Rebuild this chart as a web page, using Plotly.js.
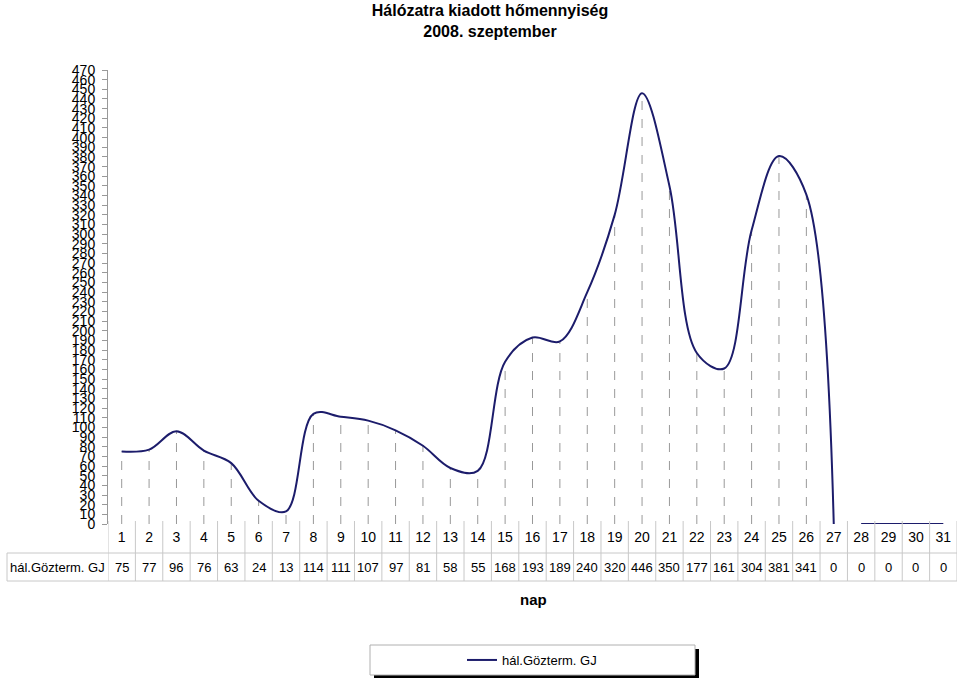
<!DOCTYPE html>
<html>
<head>
<meta charset="utf-8">
<script src="https://cdn.plot.ly/plotly-3.0.1.min.js"></script>
<style>html,body{margin:0;padding:0;background:#fff;}#chart{width:960px;height:678px;}</style>
</head>
<body>
<div id="chart"></div>
<script>
const days = [1,2,3,4,5,6,7,8,9,10,11,12,13,14,15,16,17,18,19,20,21,22,23,24,25,26,27,28,29,30,31];
const values = [75,77,96,76,63,24,13,114,111,107,97,81,58,55,168,193,189,240,320,446,350,177,161,304,381,341,0,0,0,0,0];
const seriesName = 'hál.Gözterm. GJ';
const titleLines = ['Hálózatra kiadott hőmennyiség', '2008. szeptember'];
const xTitle = 'nap';
const yTicks = [];
for (let v = 0; v <= 470; v += 10) yTicks.push(v);

const FONT = '"Liberation Sans", Arial, sans-serif';
const LINE = '#1c1c6b';
const GRID = '#c8c8c8';

const plotTop = 70, plotBottom = 524, plotLeft = 108, plotRight = 957;
const ph = plotBottom - plotTop, pw = plotRight - plotLeft;
const py = p => (plotBottom - p) / ph;
const px = p => (p - plotLeft) / pw;

const traces = [
  {x: days.slice(0, 27), y: values.slice(0, 27), type: 'scatter', mode: 'lines', name: seriesName,
   line: {color: LINE, width: 2, shape: 'spline', smoothing: 1}},
  {x: days.slice(27), y: values.slice(27), type: 'scatter', mode: 'lines', name: seriesName, showlegend: false,
   line: {color: LINE, width: 2, shape: 'spline', smoothing: 1}}
];

const shapes = [];
days.forEach((d, i) => {
  if (values[i] > 0) shapes.push({type: 'line', xref: 'x', yref: 'y', x0: d, x1: d, y0: 0, y1: values[i],
    line: {color: '#999', width: 1, dash: 'dash'}, layer: 'below'});
});
for (let i = 0; i <= days.length; i++) {
  shapes.push({type: 'line', xref: 'x', yref: 'paper', x0: i + 0.5, x1: i + 0.5, y0: py(521), y1: py(581),
    line: {color: GRID, width: 1}});
}
shapes.push({type: 'line', xref: 'paper', yref: 'paper', x0: px(7), x1: 1, y0: py(553), y1: py(553), line: {color: GRID, width: 1}});
shapes.push({type: 'line', xref: 'paper', yref: 'paper', x0: px(7), x1: 1, y0: py(581), y1: py(581), line: {color: GRID, width: 1}});
shapes.push({type: 'line', xref: 'paper', yref: 'paper', x0: px(7), x1: px(7), y0: py(553), y1: py(581), line: {color: GRID, width: 1}});
shapes.push({type: 'rect', xref: 'paper', yref: 'paper', x0: px(374), x1: px(699), y0: py(649), y1: py(679), line: {width: 0}, fillcolor: '#000'});
shapes.push({type: 'rect', xref: 'paper', yref: 'paper', x0: px(370), x1: px(695), y0: py(645), y1: py(675), line: {color: '#b0b0b0', width: 1}, fillcolor: '#fff'});

const annotations = [];
days.forEach((d, i) => {
  annotations.push({x: d, y: py(567), xref: 'x', yref: 'paper', text: String(values[i]), showarrow: false,
    font: {family: FONT, size: 13, color: '#000'}, xanchor: 'center', yanchor: 'middle'});
});
annotations.push({x: px(57), y: py(567), xref: 'paper', yref: 'paper', text: seriesName, showarrow: false,
  font: {family: FONT, size: 13, color: '#000'}, xanchor: 'center', yanchor: 'middle'});
annotations.push({x: px(533), y: py(599), xref: 'paper', yref: 'paper', text: '<b>' + xTitle + '</b>', showarrow: false,
  font: {family: FONT, size: 15, color: '#000'}, xanchor: 'center', yanchor: 'middle'});

const layout = {
  width: 960, height: 678,
  margin: {l: plotLeft, r: 960 - plotRight, t: plotTop, b: 678 - plotBottom, pad: 0},
  paper_bgcolor: '#fff', plot_bgcolor: '#fff',
  title: {text: '<b>' + titleLines.join('<br>') + '</b>', x: 490 / 960, xanchor: 'center', xref: 'container',
    y: 1 - 16 / 678, yanchor: 'middle', yref: 'container',
    font: {family: FONT, size: 16, color: '#000'}},
  showlegend: true,
  legend: {orientation: 'h', x: px(532), xanchor: 'center', y: py(660), yanchor: 'middle',
    bgcolor: 'rgba(0,0,0,0)', borderwidth: 0, font: {family: FONT, size: 13, color: '#000'}},
  xaxis: {range: [0.5, 31.5], tickvals: days, ticktext: days.map(String), ticks: '', showgrid: false, zeroline: false,
    showline: false, tickfont: {family: FONT, size: 14, color: '#000'}, ticklabelstandoff: 3, fixedrange: true},
  yaxis: {range: [0, 470], tickvals: yTicks, ticktext: yTicks.map(String), ticks: 'outside', ticklen: 5, tickcolor: '#999',
    showline: true, linecolor: '#999', linewidth: 1, showgrid: false, zeroline: false,
    tickfont: {family: FONT, size: 14, color: '#000'}, ticklabelstandoff: 4, fixedrange: true},
  shapes: shapes, annotations: annotations
};

Plotly.newPlot('chart', traces, layout, {displayModeBar: false, staticPlot: true});
</script>
</body>
</html>
